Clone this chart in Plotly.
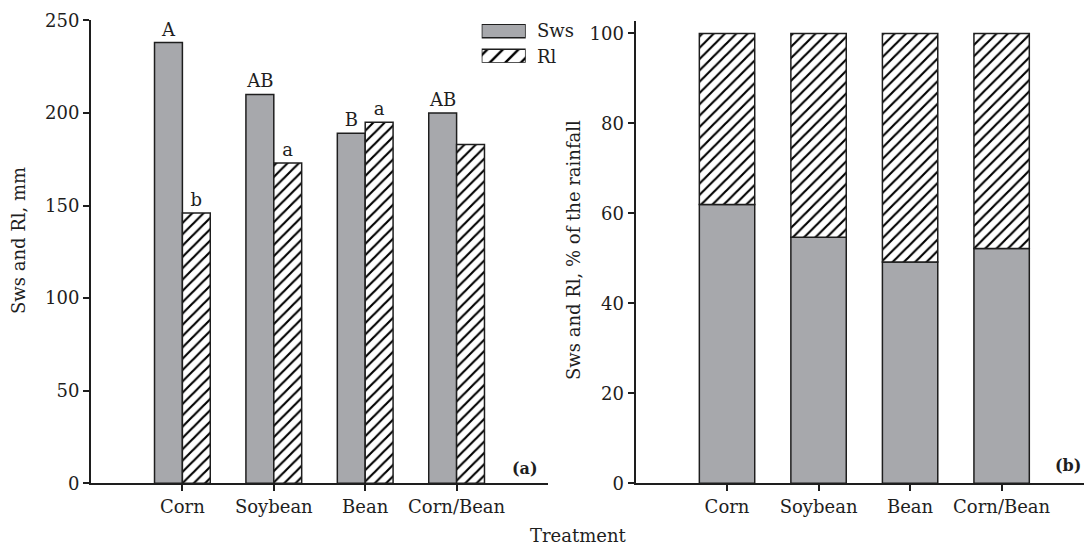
import plotly.graph_objects as go

# ---------------- data ----------------
categories = ["Corn", "Soybean", "Bean", "Corn/Bean"]
sws_mm = [238, 210, 189, 200]
rl_mm = [146, 173, 195, 183]
sws_letters = ["A", "AB", "B", "AB"]
rl_letters = ["b", "a", "a", ""]
sws_pct = [62.0, 54.7, 49.2, 52.2]
rl_pct = [38.0, 45.3, 50.8, 47.8]
left_yticks = [0, 50, 100, 150, 200, 250]
right_yticks = [0, 20, 40, 60, 80, 100]
series_names = ["Sws", "Rl"]

# ---------------- styling ----------------
W, H = 1084, 547
FONT = "DejaVu Serif"
INK = "#1e1e1e"
GRAY = "#a7a8ac"
PAT = dict(shape="/", fgcolor="#000000", fgopacity=1, bgcolor="white", size=8, solidity=0.27)
LINE = dict(color=INK, width=1.5)


def px(x):
    return x / W


def py(y):
    return (H - y) / H


fig = go.Figure()

# ---- panel (a): grouped bars in mm ----
fig.add_trace(go.Bar(
    x=categories, y=sws_mm, name=series_names[0], xaxis="x", yaxis="y",
    marker=dict(color=GRAY, line=LINE), width=0.305, offset=-0.305,
    text=sws_letters, textposition="outside", cliponaxis=False,
    constraintext="none", textfont=dict(family=FONT, size=18, color=INK),
    showlegend=False,
))
fig.add_trace(go.Bar(
    x=categories, y=rl_mm, name=series_names[1], xaxis="x", yaxis="y",
    marker=dict(color="white", pattern=PAT, line=LINE), width=0.305, offset=0,
    text=rl_letters, textposition="outside", cliponaxis=False,
    constraintext="none", textfont=dict(family=FONT, size=18, color=INK),
    showlegend=False,
))

# ---- panel (b): stacked percentages ----
fig.add_trace(go.Bar(
    x=categories, y=sws_pct, name=series_names[0], xaxis="x2", yaxis="y2",
    marker=dict(color=GRAY, line=LINE), width=0.605, offset=-0.3025,
    showlegend=False,
))
fig.add_trace(go.Bar(
    x=categories, y=rl_pct, base=sws_pct, name=series_names[1], xaxis="x2", yaxis="y2",
    marker=dict(color="white", pattern=PAT, line=LINE), width=0.605, offset=-0.3025,
    showlegend=False,
))

# ---- legend key (small dedicated axes) ----
fig.add_trace(go.Bar(
    y=[series_names[0]], x=[1], orientation="h", xaxis="x3", yaxis="y3",
    marker=dict(color=GRAY, line=LINE), width=0.54, offset=-0.27, showlegend=False,
    hoverinfo="skip",
))
fig.add_trace(go.Bar(
    y=[series_names[1]], x=[1], orientation="h", xaxis="x3", yaxis="y3",
    marker=dict(color="white", pattern=dict(PAT, size=11, solidity=0.22), line=LINE),
    width=0.54, offset=-0.27, showlegend=False, hoverinfo="skip",
))

axis_common = dict(
    showline=True, linecolor=INK, linewidth=2, showgrid=False, zeroline=False,
    ticks="outside", ticklen=6, tickwidth=1.5, tickcolor=INK, automargin=False,
    tickfont=dict(family=FONT, size=18, color=INK),
)

fig.update_layout(
    width=W, height=H,
    margin=dict(l=0, r=0, t=0, b=0, autoexpand=False),
    paper_bgcolor="white", plot_bgcolor="white",
    barmode="group",
    showlegend=False,
    xaxis=dict(axis_common, domain=[px(91), px(548)], range=[-1, 4],
               type="category", categoryorder="array", categoryarray=categories,
               anchor="y"),
    yaxis=dict(axis_common, domain=[py(483.3), py(20.3)], range=[0, 250],
               tickvals=left_yticks, anchor="x"),
    xaxis2=dict(axis_common, domain=[px(635.5), 1.0], range=[-1, 3.9],
                type="category", categoryorder="array", categoryarray=categories,
                anchor="y2"),
    yaxis2=dict(axis_common, domain=[py(483.3), py(21.3)], range=[0, 102.7],
                tickvals=right_yticks, anchor="x2"),
    xaxis3=dict(domain=[px(481.7), px(525.7)], range=[0, 1], visible=False,
                anchor="y3", fixedrange=True, automargin=False),
    yaxis3=dict(domain=[py(62.8), py(24.0)], range=[1.276, -0.276], visible=False,
                type="category", categoryorder="array", categoryarray=series_names,
                anchor="x3", fixedrange=True, automargin=False),
)

ann_font = dict(family=FONT, size=18, color=INK)
fig.add_annotation(text="Sws and Rl, mm", xref="paper", yref="paper",
                   x=px(18), y=py(241), textangle=-90, showarrow=False,
                   xanchor="center", yanchor="middle", font=ann_font)
fig.add_annotation(text="Sws and Rl, % of the rainfall", xref="paper", yref="paper",
                   x=px(573), y=py(250), textangle=-90, showarrow=False,
                   xanchor="center", yanchor="middle", font=ann_font)
fig.add_annotation(text="Treatment", xref="paper", yref="paper",
                   x=px(578.5), y=py(535.5), showarrow=False,
                   xanchor="center", yanchor="middle", font=ann_font)
fig.add_annotation(text="<b>(a)</b>", xref="paper", yref="paper",
                   x=px(510), y=py(468), showarrow=False,
                   xanchor="left", yanchor="middle",
                   font=dict(family=FONT, size=16, color=INK))
fig.add_annotation(text="<b>(b)</b>", xref="paper", yref="paper",
                   x=px(1083), y=py(465), showarrow=False,
                   xanchor="right", yanchor="middle",
                   font=dict(family=FONT, size=16, color=INK))
for name, yc in zip(series_names, [31, 56]):
    fig.add_annotation(text=name, xref="paper", yref="paper",
                       x=px(535), y=py(yc), showarrow=False,
                       xanchor="left", yanchor="middle", font=ann_font)

fig.write_html("out.html")
